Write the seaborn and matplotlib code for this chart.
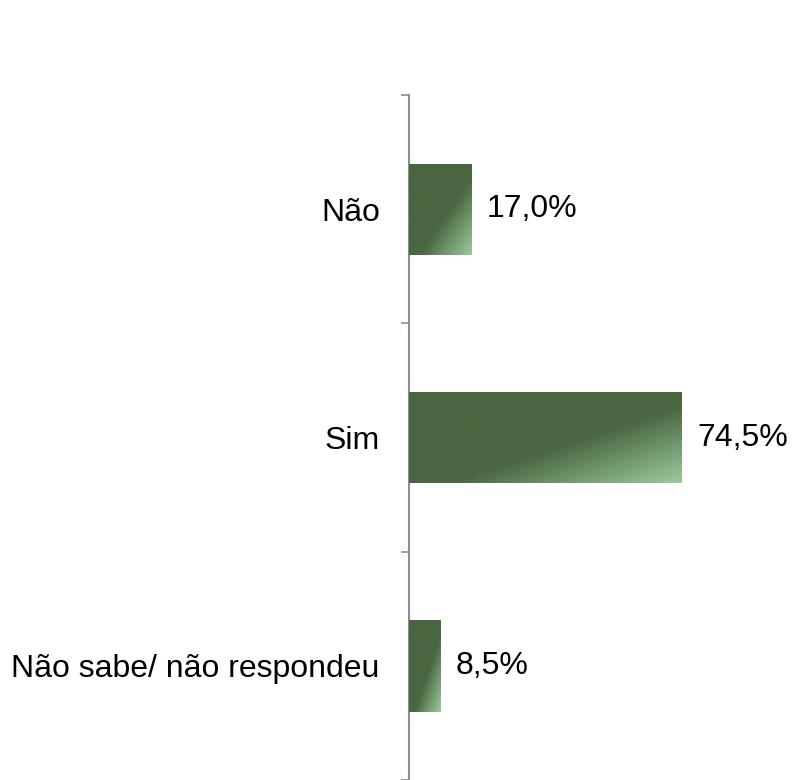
import matplotlib
matplotlib.use("Agg")
import matplotlib.pyplot as plt
import numpy as np
import pandas as pd
import seaborn as sns
from matplotlib.colors import LinearSegmentedColormap

# Data
categories = ["Não", "Sim", "Não sabe/ não respondeu"]
values = [17.0, 74.5, 8.5]
labels = ["17,0%", "74,5%", "8,5%"]

sns.set_style("white")
plt.rcParams['font.family'] = ['Liberation Sans', 'DejaVu Sans']

df = pd.DataFrame({"resposta": categories, "pct": values})

fig = plt.figure(figsize=(7.92, 7.80), dpi=100)
ax = fig.add_axes([0.5164, 0.0, 0.4836, 0.8782])

sns.barplot(data=df, y="resposta", x="pct", orient="h", color="#4a6741",
            width=0.40, saturation=1, ax=ax, edgecolor="none")

# gradient fill: dark green with a light corner at bottom right
dark = "#4a6741"
light = "#9bcb9d"
cmap = LinearSegmentedColormap.from_list("g", [(0, dark), (0.58, dark), (1, light)])
u = np.linspace(0, 1, 200)
v = np.linspace(0, 1, 200)
U, V = np.meshgrid(u, v)
T = (U + V) / 2
for p in ax.patches:
    x0, y0 = p.get_x(), p.get_y()
    w, h = p.get_width(), p.get_height()
    im = ax.imshow(T, cmap=cmap, vmin=0, vmax=1, aspect="auto",
                   extent=[x0, x0 + w, y0, y0 + h], origin="lower",
                   interpolation="bilinear", zorder=3)
    im.set_clip_path(p)

ax.set_xlim(0, 104.6)
ax.set_ylim(2.5, -0.5)

for i, (val, lab) in enumerate(zip(values, labels)):
    ax.annotate(lab, xy=(val, i), xytext=(11, 0), textcoords="offset points",
                va="center", ha="left", fontsize=23, color="black")

ax.set_xlabel("")
ax.set_ylabel("")
ax.set_xticks([])
for s in ["top", "right", "bottom"]:
    ax.spines[s].set_visible(False)
ax.spines["left"].set_color("#8a9099")
ax.spines["left"].set_linewidth(1.5)

ax.set_yticks([-0.5, 0.5, 1.5, 2.5], minor=True)
ax.tick_params(axis="y", which="minor", left=True, length=6, width=1.2, color="#8a9099")
ax.tick_params(axis="y", which="major", length=0, pad=21, labelsize=23, labelcolor="black")

fig.savefig("out.png", dpi=100)
